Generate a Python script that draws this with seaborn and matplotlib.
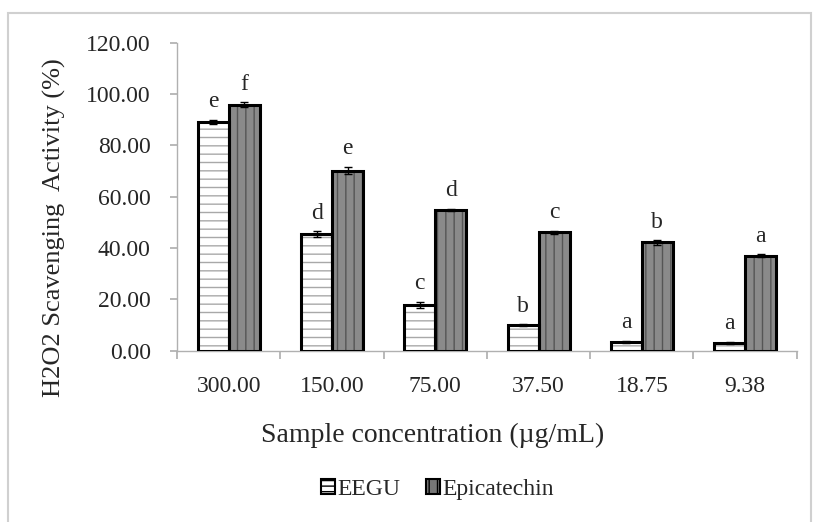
import matplotlib
matplotlib.use("Agg")
import numpy as np
import pandas as pd
import seaborn as sns
from matplotlib import pyplot as plt
from matplotlib import ticker
from matplotlib.patches import Rectangle, Patch

sns.set_theme(style="white")
plt.rcParams["font.family"] = ["Liberation Serif", "DejaVu Serif"]
plt.rcParams["hatch.linewidth"] = 1.0

concentrations = ["300.00", "150.00", "75.00", "37.50", "18.75", "9.38"]
eegu = [89.3, 45.5, 17.9, 9.9, 3.4, 3.2]
epicatechin = [95.8, 70.2, 54.9, 46.1, 42.2, 37.0]
eegu_err = [0.8, 1.0, 1.2, 0.4, 0.5, 0.4]
epi_err = [1.0, 1.5, 0.5, 0.6, 0.8, 0.6]
eegu_letters = ["e", "d", "c", "b", "a", "a"]
epi_letters = ["f", "e", "d", "c", "b", "a"]

df = pd.DataFrame({
    "conc": concentrations * 2,
    "value": eegu + epicatechin,
    "err": eegu_err + epi_err,
    "letter": eegu_letters + epi_letters,
    "sample": ["EEGU"] * 6 + ["Epicatechin"] * 6,
})

fig = plt.figure(figsize=(8.13, 5.22), dpi=100)
ax = fig.add_axes([0.218, 0.328, 0.762, 0.590])

sns.barplot(data=df, x="conc", y="value", hue="sample",
            palette={"EEGU": "white", "Epicatechin": "#8a8a8a"},
            width=0.6, gap=0, errorbar=None, legend=False, ax=ax)

# hatch colour follows edgecolor, so the black outline is drawn separately
styles = {"EEGU": ("--", "#a8a8a8"), "Epicatechin": ("||", "#555555")}
for i, bar in enumerate(ax.patches[:12]):
    row = df.iloc[i]
    hatch, hcol = styles[row["sample"]]
    bar.set_hatch(hatch)
    bar.set_edgecolor(hcol)
    bar.set_linewidth(0)
    x0, w, h = bar.get_x(), bar.get_width(), bar.get_height()
    ax.add_patch(Rectangle((x0, 0), w, h, fill=False, edgecolor="black",
                           linewidth=2.2, zorder=3))
    xc = x0 + w / 2
    ax.errorbar(xc, h, yerr=row["err"], fmt="none", ecolor="black",
                elinewidth=1, capsize=3, zorder=4)
    ax.text(xc, h + row["err"] + 3, row["letter"], ha="center", va="bottom",
            fontsize=17)

ax.set_ylim(0, 120)
ax.set_xlim(-0.5, 5.5)
ax.yaxis.set_major_locator(ticker.MultipleLocator(20))
ax.yaxis.set_major_formatter(ticker.FormatStrFormatter("%.2f"))
ax.set_xticks(np.arange(-0.5, 6, 1), minor=False)
ax.set_xticklabels([])
ax.set_xticks(np.arange(6), minor=True)
ax.set_xticklabels(concentrations, minor=True)
ax.tick_params(axis="x", which="major", length=6, color="#b0b0b0", direction="out", bottom=True)
ax.tick_params(axis="x", which="minor", length=0, labelsize=17, pad=18)
ax.tick_params(axis="y", length=5, color="#b0b0b0", direction="out", left=True, labelsize=17, pad=14)

for side in ["top", "right"]:
    ax.spines[side].set_visible(False)
for side in ["left", "bottom"]:
    ax.spines[side].set_color("#b0b0b0")
    ax.spines[side].set_linewidth(1)

ax.set_ylabel("H2O2 Scavenging  Activity (%)", fontsize=19, labelpad=14)
ax.yaxis.set_label_coords(-0.18, 0.40)
ax.set_xlabel("Sample concentration (µg/mL)", fontsize=20, labelpad=18)
ax.xaxis.set_label_coords(0.413, -0.235)

handles = [Patch(facecolor="white", edgecolor="black", hatch="---", linewidth=1.5, label="EEGU"),
           Patch(facecolor="#777777", edgecolor="black", hatch="||", linewidth=1.5, label="Epicatechin")]
fig.legend(handles=handles, loc="center", bbox_to_anchor=(0.538, 0.063), ncol=2,
           frameon=False, fontsize=17, handlelength=0.6, handleheight=0.6,
           handletextpad=0.1, columnspacing=1.1)

fig.add_artist(Rectangle((0.01, -0.01), 0.987, 0.985, transform=fig.transFigure,
                         fill=False, edgecolor="#d0d0d0", linewidth=1.5))

fig.savefig("out.png", dpi=100, facecolor="white")
